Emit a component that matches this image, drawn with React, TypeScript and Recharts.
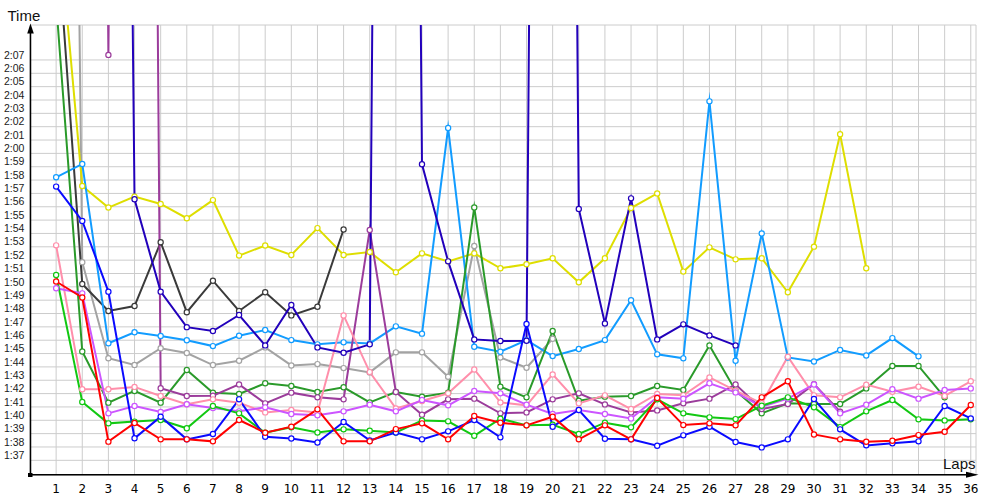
import React from 'react';
import { LineChart, Line, XAxis, YAxis, CartesianGrid } from 'recharts';

// Lap numbers (x categories)
const laps: number[] = Array.from({ length: 36 }, (_, i) => i + 1);

// Y tick values in seconds (1:37 .. 2:07)
const yTicks: number[] = [
  97, 98, 99, 100, 101, 102, 103, 104, 105, 106, 107, 108, 109, 110, 111, 112,
  113, 114, 115, 116, 117, 118, 119, 120, 121, 122, 123, 124, 125, 126, 127,
];

// Lap times in seconds per driver (null = no lap). Very large values are pit/slow laps off the chart.
const red: (number | null)[] = [110.4, 109.2, 98.4, 99.8, 98.57, 98.57, 98.42, 100.02, 99.07, 99.52, 100.82, 98.42, 98.42, 99.34, 99.77, 98.57, 100.32, 99.82, 99.62, 100.27, 98.57, 99.62, 98.57, 101.67, 99.64, 99.77, 99.62, 101.72, 102.92, 98.94, 98.57, 98.39, 98.47, 98.89, 99.14, 101.14];
const blue: (number | null)[] = [117.51, 114.94, 109.64, 98.65, 100.27, 98.57, 98.97, 101.57, 98.77, 98.64, 98.34, 99.87, 98.49, 99.09, 98.57, 99.17, 100.02, 98.72, 107.21, 99.52, 100.77, 98.62, 98.57, 98.09, 98.87, 99.52, 98.37, 97.97, 98.57, 101.59, 99.32, 98.12, 98.27, 98.42, 101.07, 100.14];
const green: (number | null)[] = [110.89, 101.37, 99.77, 99.9, 100.02, 99.4, 101.07, 100.52, 99.07, 99.47, 99.09, 99.32, 99.22, 99.09, 99.99, 99.92, 98.84, 100.12, 99.62, 99.67, 98.97, 99.82, 99.47, 101.57, 100.52, 100.22, 100.09, 101.09, 101.72, 100.97, 99.49, 100.67, 101.52, 100.07, 99.99, 100.07];
const pink: (number | null)[] = [113.11, 102.32, 102.32, 102.5, 101.82, 101.2, 101.57, 101.32, 100.59, 100.77, 100.59, 107.86, 103.61, 100.89, 101.44, 102.02, 103.81, 101.34, 101.12, 103.44, 101.27, 101.87, 100.84, 101.97, 101.87, 103.21, 102.22, 101.27, 104.76, 101.87, 101.72, 102.67, 102.14, 102.52, 101.82, 102.92];
const violet: (number | null)[] = [109.89, 109.51, 100.52, 101.07, 100.62, 101.2, 100.92, 100.67, 100.97, 100.47, 100.37, 100.67, 101.17, 100.67, 101.52, 101.12, 102.2, 102.02, 101.17, 100.47, 100.77, 100.47, 100.14, 101.72, 101.62, 102.77, 102.09, 101.02, 101.62, 102.69, 100.52, 101.17, 102.32, 101.62, 102.27, 102.39];
const purple: (number | null)[] = [350, 350, 127.38, 347, 102.4, 101.82, 101.84, 102.69, 101.27, 102.07, 101.72, 101.57, 114.26, 102.12, 100.42, 101.57, 101.62, 100.52, 100.59, 101.57, 102.02, 101.19, 100.59, 100.74, 101.27, 101.62, 102.69, 100.84, 101.22, 102.71, 100.64, null, null, null, null, null];
const darkGreen: (number | null)[] = [131.3, 105.15, 101.32, 102.2, 101.32, 103.77, 102.07, 101.97, 102.77, 102.57, 102.12, 102.47, 101.34, 102.12, 101.77, 102.07, 115.95, 102.52, 101.72, 106.69, 101.47, 101.77, 101.82, 102.57, 102.27, 105.61, 102.22, 100.52, 101.27, 101.22, 101.22, 102.39, 104.07, 104.07, 101.72, null];
const gray: (number | null)[] = [277, 111.85, 104.65, 104.15, 105.4, 105.04, 104.14, 104.46, 105.46, 104.11, 104.21, 103.91, 103.59, 105.09, 105.09, 103.26, 113.06, 104.71, 103.94, 106.11, null, null, null, null, null, null, null, null, null, null, null, null, null, null, null, null];
const lightBlue: (number | null)[] = [118.21, 119.21, 105.77, 106.6, 106.32, 106.0, 105.56, 106.34, 106.76, 106.01, 105.69, 105.84, 105.76, 107.04, 106.49, 121.9, 105.51, 105.14, 106.01, 104.81, 105.34, 106.01, 108.99, 104.94, 104.64, 123.9, 104.46, 114.0, 104.71, 104.41, 105.27, 104.86, 106.16, 104.79, null, null];
const navy: (number | null)[] = [320, 310, 305, 116.56, 109.64, 106.98, 106.69, 107.89, 105.61, 108.64, 105.46, 105.06, 105.69, 350, 119.18, 111.91, 106.06, 105.94, 105.96, 350, 115.84, 107.26, 116.63, 106.06, 107.19, 106.36, 105.61, null, null, null, null, null, null, null, null, null];
const black: (number | null)[] = [137.5, 110.21, 108.19, 108.56, 113.34, 108.1, 110.46, 108.19, 109.59, 107.86, 108.51, 114.3, null, null, null, null, null, null, null, null, null, null, null, null, null, null, null, null, null, null, null, null, null, null, null, null];
const yellow: (number | null)[] = [139.3, 117.56, 115.94, 116.76, 116.21, 115.14, 116.5, 112.34, 113.1, 112.39, 114.4, 112.39, 112.61, 111.09, 112.51, 111.91, 112.51, 111.39, 111.69, 112.14, 110.34, 112.14, 115.9, 117.0, 111.14, 112.96, 112.06, 112.14, 109.59, 113.01, 121.43, 111.39, null, null, null, null];

const seriesList: { key: string; values: (number | null)[]; color: string }[] = [
  { key: 'gray', values: gray, color: '#a3a3a3' },
  { key: 'yellow', values: yellow, color: '#dede00' },
  { key: 'black', values: black, color: '#3a3a3a' },
  { key: 'lightBlue', values: lightBlue, color: '#129cff' },
  { key: 'darkGreen', values: darkGreen, color: '#2a9a2a' },
  { key: 'purple', values: purple, color: '#9b3c9b' },
  { key: 'pink', values: pink, color: '#ff8fab' },
  { key: 'violet', values: violet, color: '#cc55ff' },
  { key: 'green', values: green, color: '#12c812' },
  { key: 'navy', values: navy, color: '#2200bb' },
  { key: 'blue', values: blue, color: '#0a0aff' },
  { key: 'red', values: red, color: '#ff0000' },
];

const data = laps.map((lap, i) => {
  const row: Record<string, number | null> = { lap };
  seriesList.forEach((s) => {
    row[s.key] = s.values[i];
  });
  return row;
});

const fmt = (v: number) => {
  const m = Math.floor(v / 60);
  const s = Math.round(v - m * 60);
  return `${m}:${s < 10 ? '0' : ''}${s}`;
};

const YTick = (props: any) => {
  const { y, payload } = props;
  return (
    <text
      x={4}
      y={y - 5}
      dy="0.35em"
      fontSize={10.5}
      fontFamily="'Liberation Sans Narrow', 'Liberation Sans', Arial, sans-serif"
      fill="#1a1a1a"
      textAnchor="start"
    >
      {fmt(payload.value)}
    </text>
  );
};

const XTick = (props: any) => {
  const { x, y, payload } = props;
  return (
    <text
      x={x}
      y={y}
      dy={9.7}
      fontSize={12}
      fontFamily="'DejaVu Sans', Verdana, sans-serif"
      fill="#000"
      textAnchor="middle"
    >
      {payload.value}
    </text>
  );
};

export default function App() {
  return (
    <div style={{ position: 'absolute', left: 0, top: 0, width: 1000, height: 500, background: '#fff' }}>
      <LineChart width={1000} height={500} data={data} margin={{ top: 25, right: 24, bottom: 0, left: 0 }}>
        <CartesianGrid stroke="#cccccc" strokeWidth={1} />
        <XAxis
          dataKey="lap"
          type="number"
          domain={[0, 36.2]}
          ticks={laps}
          allowDataOverflow
          height={25}
          axisLine={false}
          tickLine={false}
          tickSize={6}
          tickMargin={2}
          tick={<XTick />}
          interval={0}
        />
        <YAxis
          type="number"
          domain={[95.9, 129.62]}
          ticks={yTicks}
          allowDataOverflow
          width={30}
          axisLine={false}
          tickLine={false}
          tick={<YTick />}
          interval={0}
        />
        {seriesList.map((s) => (
          <Line
            key={s.key}
            dataKey={s.key}
            type="linear"
            stroke={s.color}
            strokeWidth={2}
            strokeMiterlimit={12}
            connectNulls={false}
            isAnimationActive={false}
            dot={{ r: 2.6, fill: '#ffffff', stroke: s.color, strokeWidth: 1.2 }}
            activeDot={false}
          />
        ))}
      </LineChart>
      <svg
        width={1000}
        height={500}
        style={{ position: 'absolute', left: 0, top: 0, pointerEvents: 'none' }}
      >
        <line x1={30.5} y1={475} x2={30.5} y2={30} stroke="#000" strokeWidth={1.5} />
        <polygon points="30.5,23.5 27.2,33.5 33.8,33.5" fill="#000" />
        <line x1={30} y1={474.8} x2={970} y2={474.8} stroke="#000" strokeWidth={1.5} />
        <polygon points="978.5,474.8 966,471.8 966,477.8" fill="#000" />
        <rect x={28} y={473} width={4.5} height={4} fill="#000" />
        <text x={7.5} y={21.3} fontSize={15} fontFamily="'Liberation Sans', Arial, sans-serif" fill="#111">
          Time
        </text>
        <text x={943} y={469} fontSize={15} fontFamily="'Liberation Sans', Arial, sans-serif" fill="#111">
          Laps
        </text>
      </svg>
    </div>
  );
}
